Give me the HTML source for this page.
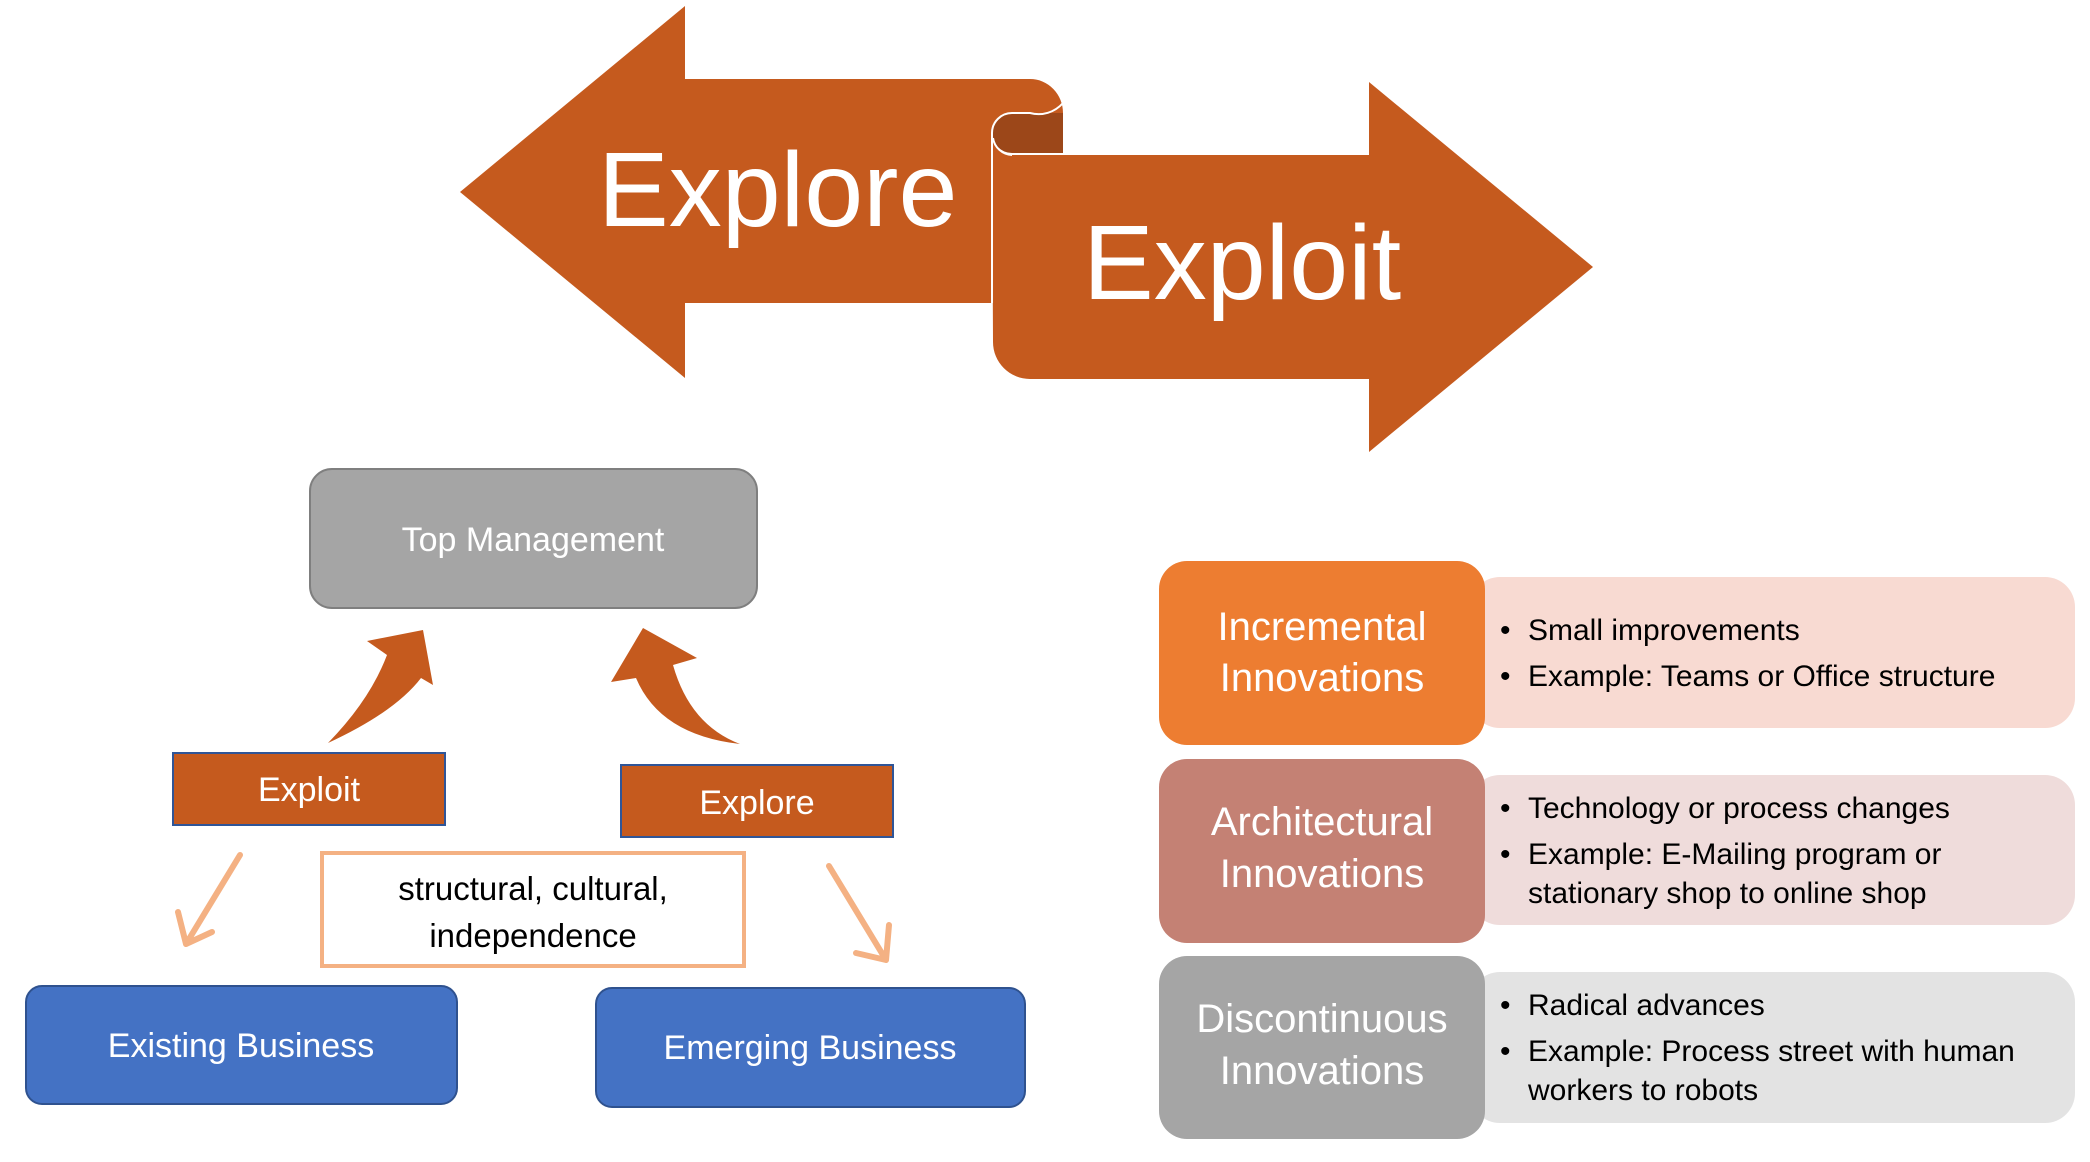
<!DOCTYPE html>
<html><head><meta charset="utf-8"><style>
html,body{margin:0;padding:0;background:#fff;}
svg{display:block;}
text{font-family:"Liberation Sans",sans-serif;}
</style></head><body>
<svg width="2090" height="1162" viewBox="0 0 2090 1162" xmlns="http://www.w3.org/2000/svg">
<!-- curl dark -->
<path d="M1012,113 L1063,113 L1063,153 L1012,153 A20,20 0 0 1 1012,113 Z" fill="#9c4719"/>
<!-- big left arrow -->
<path d="M460,192 L685,6 L685,79 L1030,79 A33,34 0 0 1 1063,113 L1012,113 A20,20 0 0 0 992,133 L992,303 L685,303 L685,378 Z" fill="#c55a1e"/>
<!-- big right arrow -->
<path d="M992,133 A20,20 0 0 0 1012,155 L1369,155 L1369,82 L1593,267 L1369,452 L1369,379 L1030,379 A37,37 0 0 1 993,342 Z" fill="#c55a1e"/>
<path d="M1063,103 A33,34 0 0 1 1030,113 L1012,113 A20,20 0 0 0 992,133 L992,303" fill="none" stroke="#fff" stroke-width="2"/>
<path d="M993,138 A20,20 0 0 0 1012,155" fill="none" stroke="#fff" stroke-width="2"/>
<text x="598" y="226" font-size="106" fill="#fff">Explore</text>
<text x="1083" y="299" font-size="106" fill="#fff">Exploit</text>

<!-- left diagram -->
<rect x="310" y="469" width="447" height="139" rx="22" fill="#a5a5a5" stroke="#7f7f7f" stroke-width="2"/>
<text x="533" y="551" font-size="34" fill="#fff" text-anchor="middle">Top Management</text>

<path d="M328,743 Q395,712 421,678 L433,685 L423,630 L367,641 L387,655 Q370,700 328,743 Z" fill="#c55a1e"/>
<path d="M740,744 Q660,735 636,678 L611,682 L643,628 L697,658 L673,665 Q690,725 740,744 Z" fill="#c55a1e"/>

<rect x="173" y="753" width="272" height="72" fill="#c55a1e" stroke="#2f5597" stroke-width="2"/>
<text x="309" y="801" font-size="34" fill="#fff" text-anchor="middle">Exploit</text>
<rect x="621" y="765" width="272" height="72" fill="#c55a1e" stroke="#2f5597" stroke-width="2"/>
<text x="757" y="814" font-size="34" fill="#fff" text-anchor="middle">Explore</text>

<rect x="322" y="853" width="422" height="113" fill="#fff" stroke="#f4b183" stroke-width="4"/>
<text x="533" y="900" font-size="33" fill="#000" text-anchor="middle">structural, cultural,</text>
<text x="533" y="947" font-size="33" fill="#000" text-anchor="middle">independence</text>

<g stroke="#f4b183" stroke-width="6" fill="none" stroke-linecap="round" stroke-linejoin="round">
<path d="M240,855 L186,944 M178,912 L186,944 L212,932"/>
<path d="M829,866 L886,960 M856,953 L886,960 L889,925"/>
</g>

<rect x="26" y="986" width="431" height="118" rx="16" fill="#4472c4" stroke="#2f528f" stroke-width="2"/>
<text x="241" y="1057" font-size="34" fill="#fff" text-anchor="middle">Existing Business</text>
<rect x="596" y="988" width="429" height="119" rx="16" fill="#4472c4" stroke="#2f528f" stroke-width="2"/>
<text x="810" y="1059" font-size="34" fill="#fff" text-anchor="middle">Emerging Business</text>

<!-- right section -->
<rect x="1470" y="577" width="605" height="151" rx="30" fill="#f8dad2"/>
<rect x="1159" y="561" width="326" height="184" rx="28" fill="#ed7d31"/>
<text x="1322" y="640" font-size="40" fill="#fff" text-anchor="middle">Incremental</text>
<text x="1322" y="691" font-size="40" fill="#fff" text-anchor="middle">Innovations</text>
<g font-size="30" fill="#000">
<text x="1500" y="640">•</text><text x="1528" y="640">Small improvements</text>
<text x="1500" y="686">•</text><text x="1528" y="686">Example: Teams or Office structure</text>
</g>

<rect x="1470" y="775" width="605" height="150" rx="30" fill="#efdcdb"/>
<rect x="1159" y="759" width="326" height="184" rx="28" fill="#c48174"/>
<text x="1322" y="835" font-size="40" fill="#fff" text-anchor="middle">Architectural</text>
<text x="1322" y="887" font-size="40" fill="#fff" text-anchor="middle">Innovations</text>
<g font-size="30" fill="#000">
<text x="1500" y="818">•</text><text x="1528" y="818">Technology or process changes</text>
<text x="1500" y="864">•</text><text x="1528" y="864">Example: E-Mailing program or</text>
<text x="1528" y="903">stationary shop to online shop</text>
</g>

<rect x="1470" y="972" width="605" height="151" rx="30" fill="#e3e3e3"/>
<rect x="1159" y="956" width="326" height="183" rx="28" fill="#a5a5a5"/>
<text x="1322" y="1032" font-size="40" fill="#fff" text-anchor="middle">Discontinuous</text>
<text x="1322" y="1084" font-size="40" fill="#fff" text-anchor="middle">Innovations</text>
<g font-size="30" fill="#000">
<text x="1500" y="1015">•</text><text x="1528" y="1015">Radical advances</text>
<text x="1500" y="1061">•</text><text x="1528" y="1061">Example: Process street with human</text>
<text x="1528" y="1100">workers to robots</text>
</g>
</svg>
</body></html>
